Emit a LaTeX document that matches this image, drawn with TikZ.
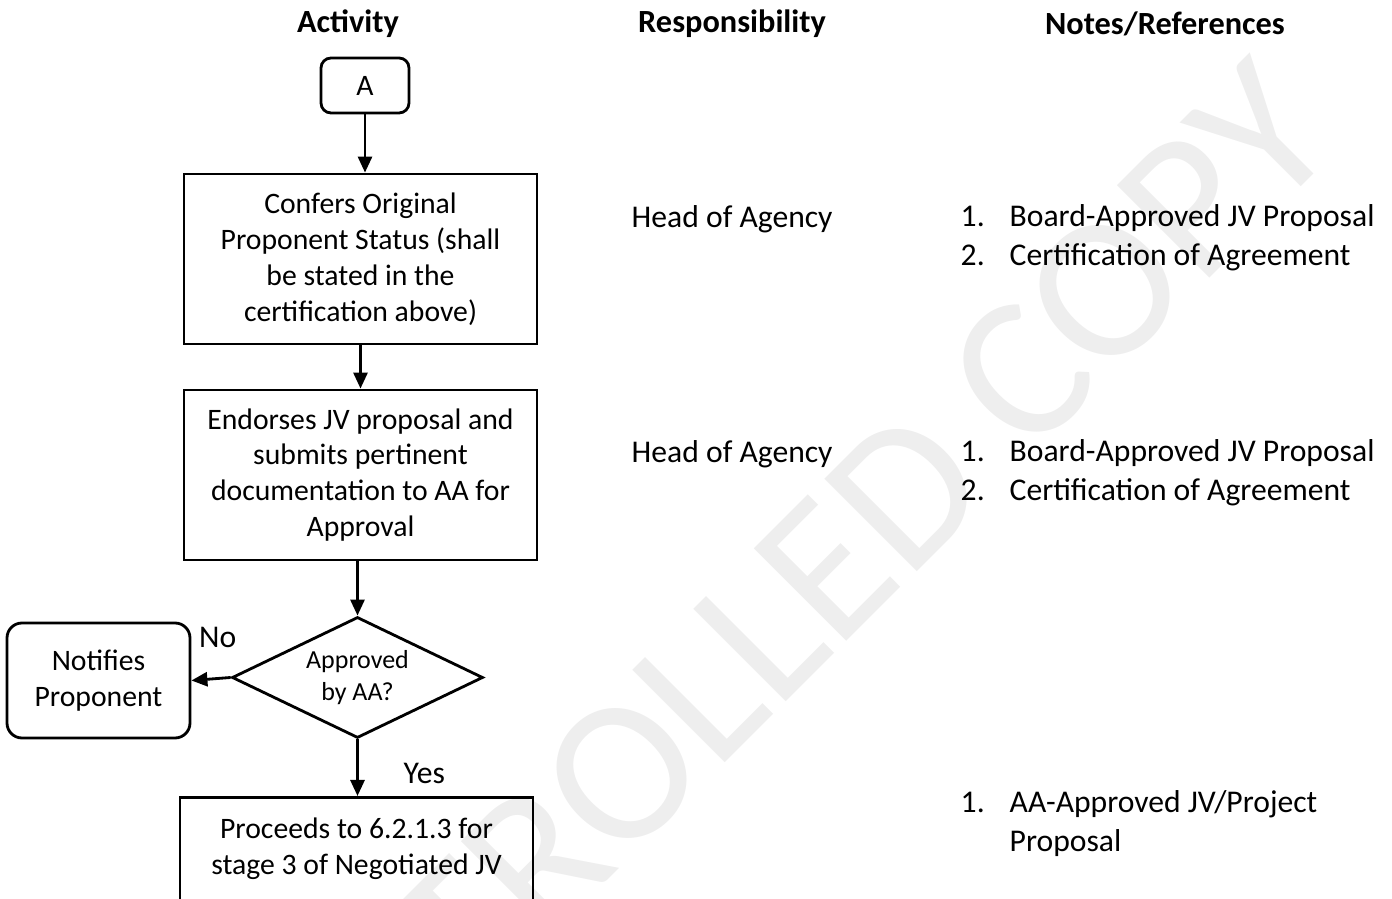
\documentclass[tikz,border=0pt]{standalone}
\usepackage{fontspec}
\setmainfont{Carlito}
\usetikzlibrary{positioning}
\usetikzlibrary{shapes.geometric}
\usetikzlibrary{arrows.meta}

\begin{document}
\begin{tikzpicture}[
    every node/.style={font=\fontsize{9}{10.2}\selectfont},
    procbox/.style={draw, thick, align=center, minimum width=3.53cm, minimum height=1.70cm, inner sep=0pt,
        font=\fontsize{8.45}{10.2}\selectfont},
    termbox/.style={draw, thick, rounded corners=1.5mm, align=center, inner sep=0pt,
        font=\fontsize{8.45}{10.2}\selectfont},
    decision/.style={draw, thick, diamond, shape aspect=2, align=center, inner sep=0pt,
        minimum width=2.51cm, minimum height=1.21cm, font=\fontsize{7.4}{9.1}\selectfont},
    flow/.style={thick, -{Triangle[length=1.6mm,width=1.4mm]}},
    heading/.style={font=\fontsize{9.2}{10.2}\selectfont\bfseries},
    notelist/.style={anchor=west, inner sep=0pt, font=\fontsize{9}{11.1}\selectfont},
    watermark/.style={text=gray!13, font=\fontsize{58}{58}\selectfont}
]

    \useasboundingbox (0,0) rectangle (13.92,-8.99);
    \clip (0,0) rectangle (13.92,-8.99);

    \node[watermark, rotate=45, anchor=base east] (wm) at (13.52,-1.36) {UNCONTROLLED COPY};

    \node[heading] (hact) at (3.48,-0.24) {Activity};
    \node[heading] (hresp) at (7.32,-0.24) {Responsibility};
    \node[heading] (hnotes) at (11.65,-0.24) {Notes/References};

    \node[termbox, minimum width=0.88cm, minimum height=0.55cm, rounded corners=1mm] (A) at (3.65,-0.855) {A};
    \node[procbox] (conf) at (3.605,-2.59) {Confers Original\\Proponent Status (shall\\be stated in the\\certification above)};
    \node[procbox] (endo) at (3.605,-4.75) {Endorses JV proposal and\\submits pertinent\\documentation to AA for\\Approval};
    \node[decision] (dec) at (3.575,-6.775) {Approved\\by AA?};
    \node[termbox, minimum width=1.83cm, minimum height=1.15cm] (notif) at (0.985,-6.805) {Notifies\\Proponent};
    \node[procbox, anchor=north] (proc) at (3.565,-7.96) {Proceeds to 6.2.1.3 for\\stage 3 of Negotiated JV\\~\\~};

    \draw[flow] (A) -- (A |- conf.north);
    \draw[flow] (conf) -- (endo);
    \draw[flow] (dec |- endo.south) -- (dec.north);
    \draw[flow] (dec.west) -- (notif.east) node[pos=0.33, above=1.8mm] (no) {No};
    \draw[flow] (dec.south) -- (dec.south |- proc.north) node[pos=0.6, right=3.3mm] (yes) {Yes};

    \node[anchor=west, inner sep=0pt] (resp1) at (6.31,-2.19) {Head of Agency};
    \node[anchor=west, inner sep=0pt] (resp2) at (6.31,-4.54) {Head of Agency};

    \node[notelist] (note1) at (9.6,-2.385) {\begin{tabular}{@{}p{4.9mm}@{}l@{}}
        1. & Board-Approved JV Proposal\\
        2. & Certification of Agreement
    \end{tabular}};
    \node[notelist] (note2) at (9.6,-4.735) {\begin{tabular}{@{}p{4.9mm}@{}l@{}}
        1. & Board-Approved JV Proposal\\
        2. & Certification of Agreement
    \end{tabular}};
    \node[notelist] (note3) at (9.6,-8.245) {\begin{tabular}{@{}p{4.9mm}@{}l@{}}
        1. & AA-Approved JV/Project\\
           & Proposal
    \end{tabular}};

\end{tikzpicture}
\end{document}
